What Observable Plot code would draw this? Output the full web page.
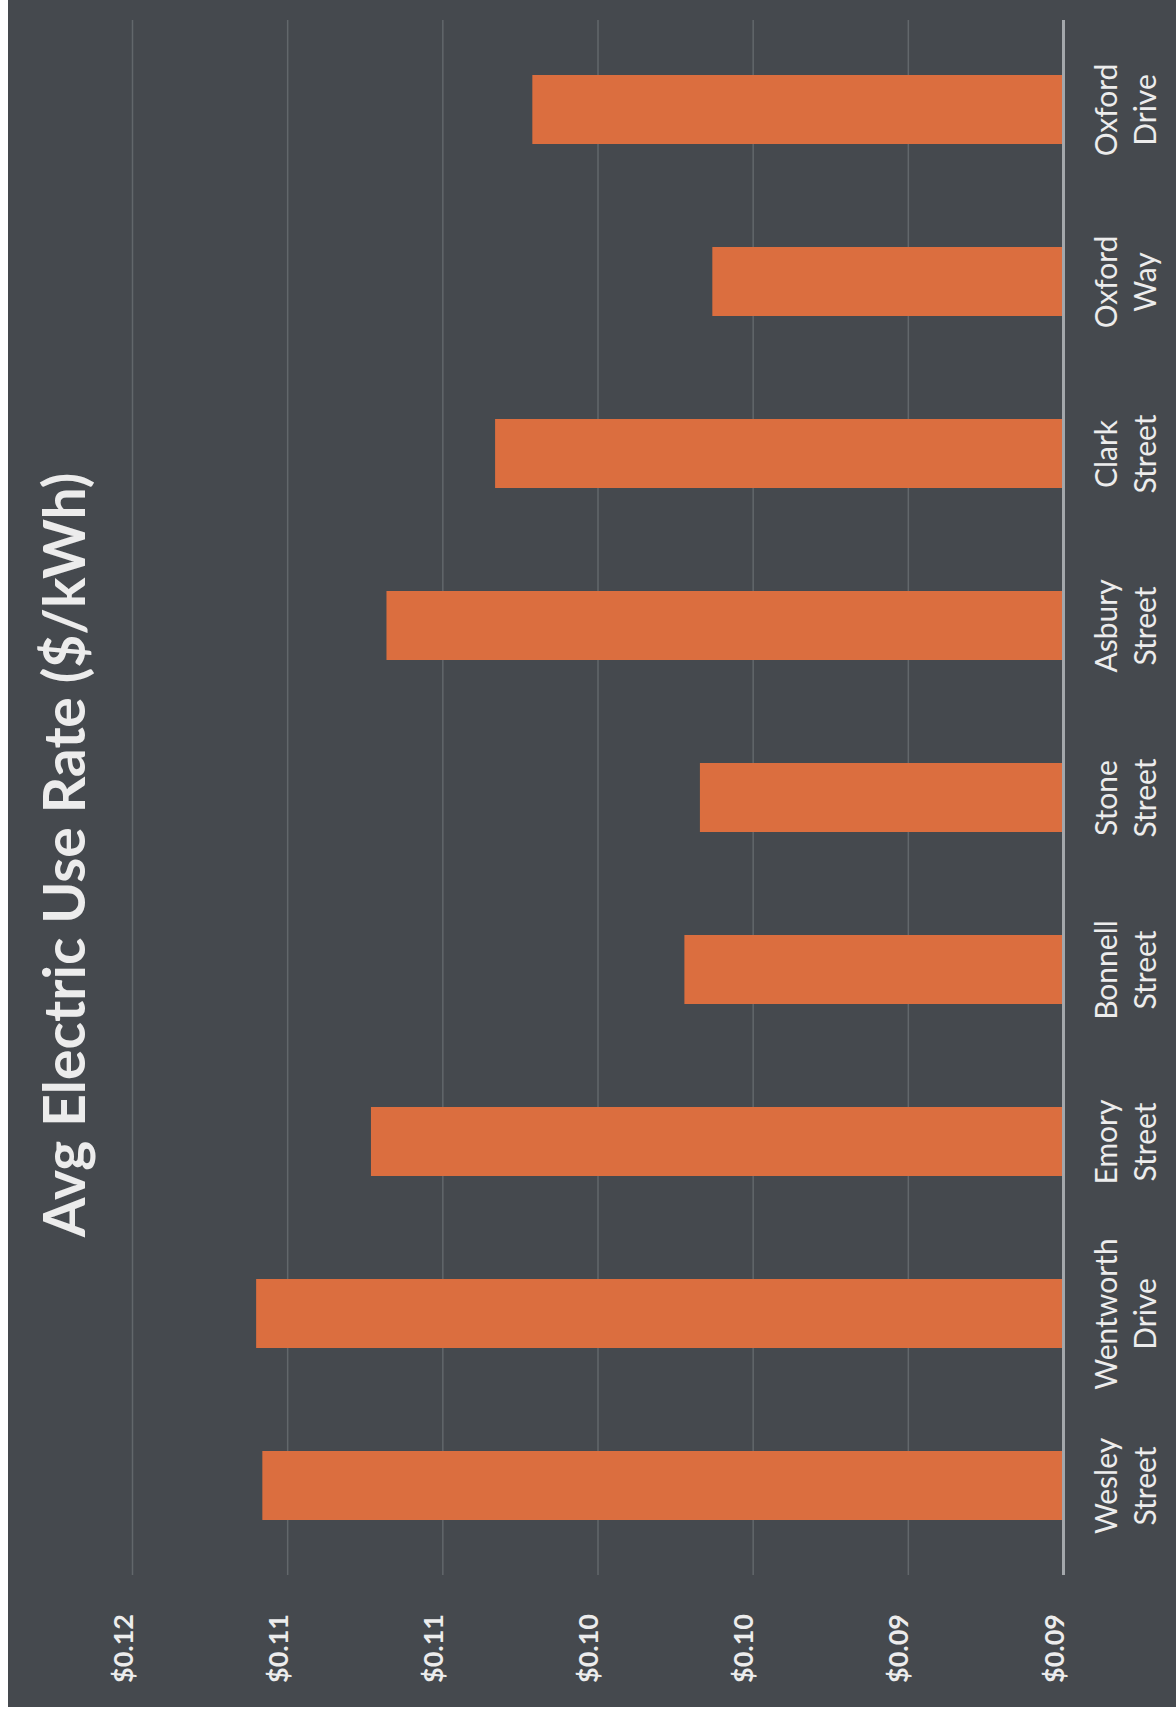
<!DOCTYPE html>
<html>
<head>
<meta charset="utf-8">
<script src="https://cdn.jsdelivr.net/npm/d3@7"></script>
<script src="https://cdn.jsdelivr.net/npm/@observablehq/plot@0.6"></script>
<style>
  html, body { margin: 0; padding: 0; background: #ffffff; }
  #chart { position: absolute; left: 8px; top: 0; }
</style>
</head>
<body>
<div id="chart"></div>
<script>
const title = "Avg Electric Use Rate ($/kWh)";
const streets = ["Wesley Street", "Wentworth Drive", "Emory Street", "Bonnell Street", "Stone Street", "Asbury Street", "Clark Street", "Oxford Way", "Oxford Drive"];
const rates = [0.1158, 0.1160, 0.1123, 0.1022, 0.1017, 0.1118, 0.1083, 0.1013, 0.1071];
const baseline = 0.09;
const tickValues = [0.09, 0.095, 0.10, 0.105, 0.11, 0.115, 0.12];
const tickLabels = ["$0.09", "$0.09", "$0.10", "$0.10", "$0.11", "$0.11", "$0.12"];

const data = streets.map((s, i) => ({street: s, rate: rates[i], label: s.replace(" ", "\n")}));
const ticks = tickValues.map((v, i) => ({v, label: tickLabels[i]}));

const plot = Plot.plot({
  width: 1168,
  height: 1707,
  marginLeft: 124,
  marginRight: 113,
  marginTop: 20,
  marginBottom: 132,
  style: {background: "#45494e", fontFamily: "Lato, sans-serif", color: "#ececec"},
  x: {domain: [0.09, 0.12], reverse: true, axis: null},
  y: {domain: streets.slice().reverse(), axis: null, paddingInner: 0.6, paddingOuter: 0.3},
  marks: [
    Plot.ruleX(tickValues.slice(1), {stroke: "#62676b", strokeWidth: 1.5}),
    Plot.barX(data, {y: "street", x1: () => baseline, x2: "rate", fill: "#db6e3f"}),
    Plot.ruleX([baseline], {stroke: "#a3a7ab", strokeWidth: 3}),
    Plot.text(ticks, {x: "v", text: "label", frameAnchor: "bottom", dy: 73, rotate: -90, fontSize: 27, fontWeight: "bold", fill: "#ececec", textAnchor: "middle"}),
    Plot.text(data, {y: "street", text: "label", frameAnchor: "right", dx: 61, rotate: -90, fontSize: 30, lineHeight: 1.3, fill: "#ececec", textAnchor: "middle"}),
    Plot.text([title], {frameAnchor: "left", dx: -66, dy: 57, rotate: -90, fontSize: 57, fontWeight: "bold", fill: "#ececec", textAnchor: "middle"})
  ]
});
document.getElementById("chart").appendChild(plot);
</script>
</body>
</html>
